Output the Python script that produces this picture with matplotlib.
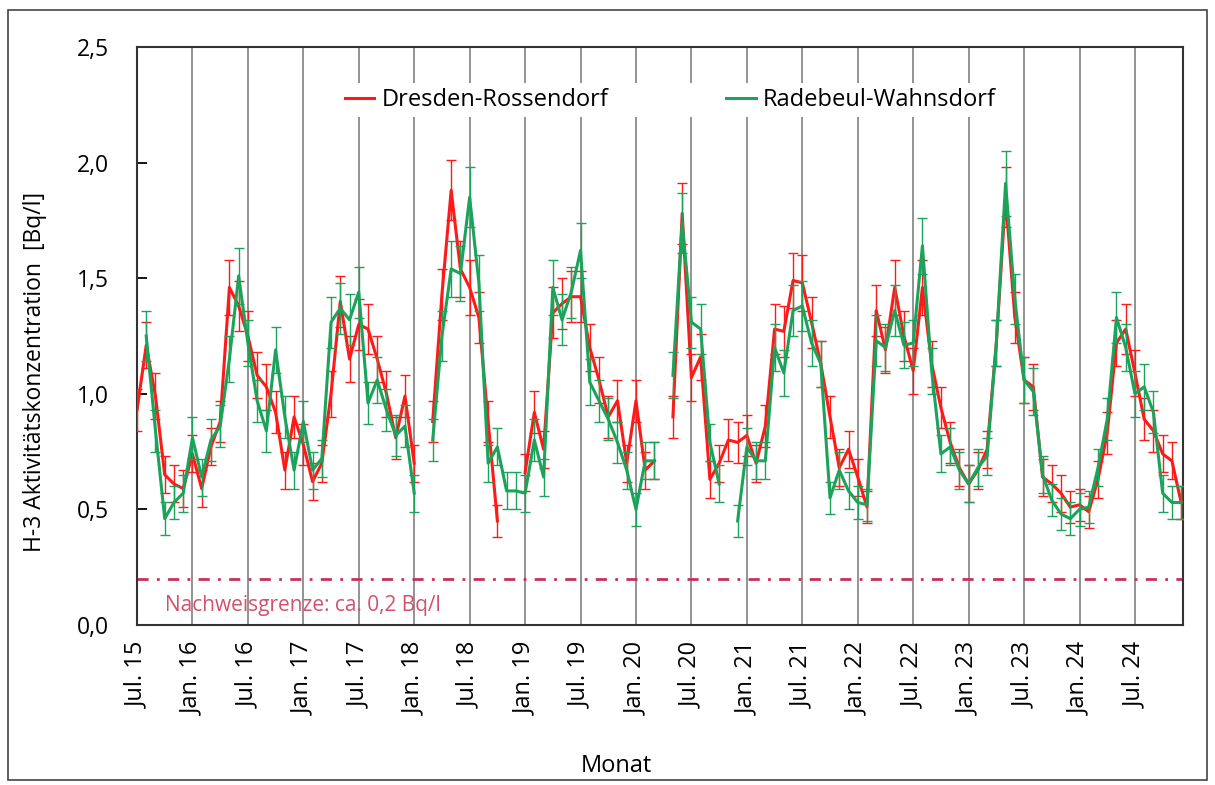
import numpy as np
import matplotlib
matplotlib.use("Agg")
import matplotlib.pyplot as plt
from matplotlib.patches import Rectangle
from matplotlib.lines import Line2D

nan = np.nan

# ---- data (monthly, Jul 2015 .. Dec 2024) ----
tick_labels = ["Jul. 15", "Jan. 16", "Jul. 16", "Jan. 17", "Jul. 17", "Jan. 18", "Jul. 18",
               "Jan. 19", "Jul. 19", "Jan. 20", "Jul. 20", "Jan. 21", "Jul. 21", "Jan. 22",
               "Jul. 22", "Jan. 23", "Jul. 23", "Jan. 24", "Jul. 24"]

dresden = [0.93, 1.21, 0.99, 0.65, 0.61, 0.59, 0.74, 0.59, 0.77, 0.88,
           1.46, 1.38, 1.25, 1.08, 1.03, 0.92, 0.67, 0.90, 0.78, 0.62,
           0.70, 1.00, 1.40, 1.15, 1.30, 1.28, 1.15, 1.00, 0.81, 0.99,
           0.70, nan, 0.88, 1.43, 1.88, 1.54, 1.46, 1.33, 0.88, 0.45,
           nan, nan, 0.66, 0.92, 0.76, 1.35, 1.39, 1.42, 1.42, 1.20,
           1.06, 0.90, 0.97, 0.70, 0.97, 0.67, 0.71, nan, 0.90, 1.78,
           1.07, 1.16, 0.63, 0.70, 0.80, 0.79, 0.82, 0.70, 0.86, 1.28,
           1.27, 1.49, 1.48, 1.31, 1.13, 0.90, 0.68, 0.76, 0.64, 0.51,
           1.36, 1.19, 1.46, 1.25, 1.10, 1.46, 1.13, 0.94, 0.79, 0.68,
           0.61, 0.67, 0.76, 1.22, 1.85, 1.33, 1.06, 1.03, 0.64, 0.61,
           0.57, 0.51, 0.52, 0.49, 0.63, 0.83, 1.22, 1.28, 1.09, 0.89,
           0.84, 0.74, 0.71, 0.53]
dresden_err = [0.09, 0.10, 0.10, 0.08, 0.08, 0.08, 0.08, 0.08, 0.08, 0.09,
               0.12, 0.11, 0.11, 0.10, 0.10, 0.09, 0.08, 0.09, 0.09, 0.08,
               0.08, 0.10, 0.11, 0.10, 0.11, 0.11, 0.10, 0.10, 0.09, 0.09,
               0.08, nan, 0.09, 0.11, 0.13, 0.12, 0.12, 0.11, 0.09, 0.07,
               nan, nan, 0.08, 0.09, 0.08, 0.11, 0.11, 0.11, 0.11, 0.10,
               0.10, 0.09, 0.09, 0.08, 0.09, 0.08, 0.08, nan, 0.09, 0.13,
               0.10, 0.10, 0.08, 0.08, 0.09, 0.09, 0.09, 0.08, 0.09, 0.11,
               0.11, 0.12, 0.12, 0.11, 0.10, 0.09, 0.08, 0.08, 0.08, 0.07,
               0.11, 0.10, 0.12, 0.11, 0.10, 0.12, 0.10, 0.09, 0.09, 0.08,
               0.08, 0.08, 0.08, 0.10, 0.13, 0.11, 0.10, 0.10, 0.08, 0.08,
               0.08, 0.07, 0.07, 0.07, 0.08, 0.09, 0.10, 0.11, 0.10, 0.09,
               0.09, 0.08, 0.08, 0.07]

radebeul = [nan, 1.25, 0.84, 0.46, 0.53, 0.57, 0.81, 0.64, 0.80, 0.86,
            1.15, 1.51, 1.22, 0.97, 0.84, 1.19, 0.90, 0.67, 0.88, 0.67,
            0.72, 1.31, 1.37, 1.32, 1.44, 0.96, 1.06, 0.93, 0.82, 0.86,
            0.57, nan, 0.80, 1.25, 1.54, 1.52, 1.85, 1.48, 0.70, 0.77,
            0.58, 0.58, 0.57, 0.80, 0.64, 1.46, 1.32, 1.44, 1.62, 1.05,
            0.97, 0.89, 0.79, 0.67, 0.50, 0.71, 0.71, nan, 1.08, 1.74,
            1.31, 1.28, 0.79, 0.61, nan, 0.45, 0.77, 0.71, 0.71, 1.20,
            1.09, 1.36, 1.38, 1.22, 1.13, 0.55, 0.67, 0.58, 0.53, 0.52,
            1.23, 1.20, 1.36, 1.21, 1.22, 1.64, 1.10, 0.74, 0.77, 0.67,
            0.61, 0.68, 0.73, 1.22, 1.91, 1.41, 1.06, 1.01, 0.65, 0.54,
            0.48, 0.46, 0.50, 0.51, 0.68, 0.89, 1.33, 1.20, 1.00, 1.03,
            0.92, 0.57, 0.53, 0.53]
radebeul_err = [nan, 0.11, 0.09, 0.07, 0.07, 0.08, 0.09, 0.08, 0.09, 0.09,
                0.10, 0.12, 0.10, 0.09, 0.09, 0.10, 0.09, 0.08, 0.09, 0.08,
                0.08, 0.11, 0.11, 0.11, 0.11, 0.09, 0.10, 0.09, 0.09, 0.09,
                0.08, nan, 0.09, 0.11, 0.12, 0.12, 0.13, 0.12, 0.08, 0.08,
                0.08, 0.08, 0.08, 0.09, 0.08, 0.12, 0.11, 0.11, 0.12, 0.10,
                0.09, 0.09, 0.09, 0.08, 0.07, 0.08, 0.08, nan, 0.10, 0.13,
                0.11, 0.11, 0.08, 0.08, nan, 0.07, 0.08, 0.08, 0.08, 0.10,
                0.10, 0.11, 0.11, 0.10, 0.10, 0.07, 0.08, 0.08, 0.07, 0.07,
                0.11, 0.10, 0.11, 0.10, 0.10, 0.12, 0.10, 0.08, 0.08, 0.08,
                0.08, 0.08, 0.08, 0.10, 0.14, 0.11, 0.10, 0.10, 0.08, 0.07,
                0.07, 0.07, 0.07, 0.07, 0.08, 0.09, 0.11, 0.10, 0.10, 0.10,
                0.09, 0.08, 0.07, 0.07]

detection_limit = 0.2
series_names = ["Dresden-Rossendorf", "Radebeul-Wahnsdorf"]

# ---- figure ----
plt.rcParams['font.family'] = ['Open Sans', 'DejaVu Sans']
W, H = 1215, 785
fig = plt.figure(figsize=(W / 100, H / 100), dpi=100)
fig.patches.append(Rectangle((8 / W, 5 / H), 1199 / W, 770 / H, transform=fig.transFigure,
                             fill=False, edgecolor='#444444', lw=1.2))

ax = fig.add_axes([137 / W, 1 - 625 / H, (1183 - 137) / W, (625 - 47) / H])

x = np.arange(len(dresden))
RED = '#FF1A1A'
GREEN = '#1BA35B'

ax.errorbar(x, dresden, yerr=dresden_err, color=RED, lw=2.2, elinewidth=1.0,
            capsize=3.5, capthick=1.0, zorder=3)
ax.errorbar(x, radebeul, yerr=radebeul_err, color=GREEN, lw=2.2, elinewidth=1.0,
            capsize=3.5, capthick=1.0, zorder=4)

ax.axhline(detection_limit, color='#C8305A', lw=2.0, linestyle=(0, (4, 3, 1, 3)), zorder=2)
ax.text((165 - 137) / 1046, (625 - 606) / 578, "Nachweisgrenze: ca. 0,2 Bq/l",
        transform=ax.transAxes, color='#D4506F', fontsize=15, va='center', ha='left')

ax.set_xlim(0, 113.2)
ax.set_ylim(0, 2.5)

tick_pos = np.arange(len(tick_labels)) * 6
ax.set_xticks(tick_pos)
ax.set_xticklabels(tick_labels, rotation=90, fontsize=17, va='top', ha='center')
ax.tick_params(axis='x', length=0, pad=12)
for t in tick_pos[1:]:
    ax.axvline(t, color='#8a8a8a', lw=1.3, zorder=1)

yt = [0, 0.5, 1.0, 1.5, 2.0, 2.5]
ax.set_yticks(yt)
ax.set_yticklabels([f"{v:.1f}".replace('.', ',') for v in yt], fontsize=16.5)
ax.tick_params(axis='y', direction='in', length=7, width=1.3, pad=20, left=True, right=False)

for s in ax.spines.values():
    s.set_linewidth(1.5)
    s.set_color('#333333')

handles = [Line2D([], [], color=RED, lw=2.2), Line2D([], [], color=GREEN, lw=2.2)]
leg = ax.legend(handles, series_names, loc='center left', bbox_to_anchor=(0.183, 0.908),
                ncol=2, frameon=True, facecolor='white', edgecolor='none', framealpha=1,
                fontsize=17, handlelength=1.25, handletextpad=0.3, columnspacing=5.0,
                borderpad=0.2)
leg.set_zorder(6)

fig.text(616 / W, 1 - 766 / H, "Monat", fontsize=17, ha='center', va='center')
fig.text(35 / W, 1 - 372 / H, "H-3 Aktivitätskonzentration  [Bq/l]", fontsize=16.5,
         rotation=90, ha='center', va='center')

fig.savefig("out.png", dpi=100)
